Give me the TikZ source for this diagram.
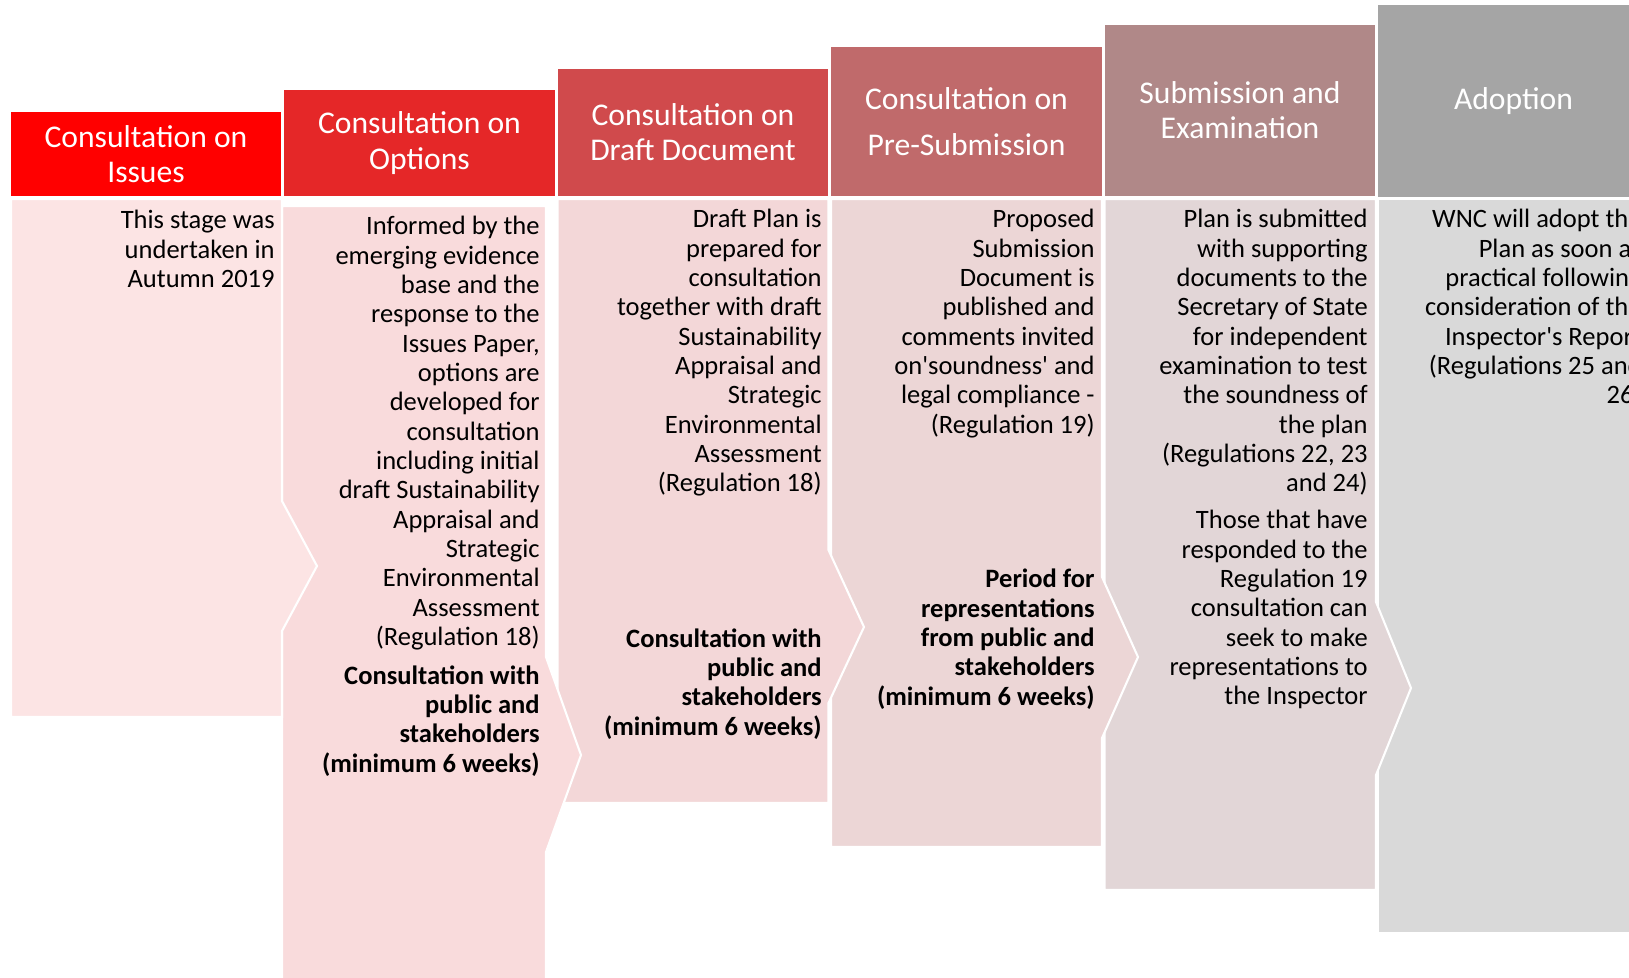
\documentclass[tikz,border=0pt]{standalone}
\usepackage{fontspec}
\setmainfont{Carlito}
\usepackage{xcolor}

\definecolor{headA}{HTML}{FF0000}
\definecolor{headB}{HTML}{E52728}
\definecolor{headC}{HTML}{D04A4C}
\definecolor{headD}{HTML}{C06A6B}
\definecolor{headE}{HTML}{B08888}
\definecolor{headF}{HTML}{A5A5A5}
\definecolor{bodyA}{HTML}{FCE4E4}
\definecolor{bodyB}{HTML}{F9DBDC}
\definecolor{bodyC}{HTML}{F3D7D8}
\definecolor{bodyD}{HTML}{ECD6D6}
\definecolor{bodyE}{HTML}{E2D6D7}
\definecolor{bodyF}{HTML}{D9D9D9}

\tikzset{
    head/.style={rectangle, inner sep=0pt, text=white, align=center,
        font=\fontsize{18}{20}\selectfont},
    stage/.style={draw=white, line width=1.2pt},
    note/.style={anchor=north east, inner sep=0pt, align=right,
        font=\fontsize{15.1}{16.7}\selectfont},
}

\begin{document}
\begin{tikzpicture}[x=0.02cm, y=-0.02cm]
        \useasboundingbox (0,0) rectangle (1629,977);
        \clip (0,0) rectangle (1629,977);

        \draw[stage, fill=bodyF] (1378,199) rectangle (1670,933);
        \draw[stage, fill=bodyE] (1104.5,199) -- (1376,199) -- (1376,602) -- (1411,688)
            -- (1376,775) -- (1376,890) -- (1104.5,890) -- cycle;
        \draw[stage, fill=bodyD] (831,199) -- (1102,199) -- (1102,577) -- (1138,657)
            -- (1102,738) -- (1102,847) -- (831,847) -- cycle;
        \draw[stage, fill=bodyC] (557.5,199) -- (828.5,199) -- (828.5,550) -- (864,627)
            -- (828.5,703) -- (828.5,803) -- (557.5,803) -- cycle;
        \draw[stage, fill=bodyB] (282,206) -- (546,206) -- (546,657) -- (581,755)
            -- (546,852) -- (546,990) -- (282,990) -- cycle;
        \draw[stage, fill=bodyA] (11,199) -- (282,199) -- (282,501) -- (317,566)
            -- (282,631) -- (282,717) -- (11,717) -- cycle;

        \node[head, fill=headA, minimum width=5.4cm, minimum height=1.68cm] (issues) at (146,154) {Consultation on\\Issues};
        \node[head, fill=headB, minimum width=5.42cm, minimum height=2.12cm] (options) at (419.5,143) {Consultation on\\Options};
        \node[head, fill=headC, minimum width=5.42cm, minimum height=2.54cm] (draft) at (693,132.5) {Consultation on\\Draft Document};
        \node[head, fill=headD, minimum width=5.42cm, minimum height=2.98cm] (presub) at (966.5,121.5) {Consultation on\\[6pt]Pre-Submission};
        \node[head, fill=headE, minimum width=5.42cm, minimum height=3.42cm] (submit) at (1240,110.5) {Submission and\\Examination};
        \node[head, fill=headF, minimum width=5.42cm, minimum height=3.84cm] (adopt) at (1513.5,101) {Adoption};

        \node[note] (issuestext) at (275,210) {This stage was\\undertaken in\\Autumn 2019};
        \node[note] (optionstext) at (540,216) {Informed by the\\emerging evidence\\base and the\\response to the\\Issues Paper,\\options are\\developed for\\consultation\\including initial\\draft Sustainability\\Appraisal and\\Strategic\\Environmental\\Assessment\\(Regulation 18)};
        \node[note, font=\fontsize{15.1}{16.7}\selectfont\bfseries] (optionsweeks) at (540,665) {Consultation with\\public and\\stakeholders\\(minimum 6 weeks)};
        \node[note] (drafttext) at (822,209) {Draft Plan is\\prepared for\\consultation\\together with draft\\Sustainability\\Appraisal and\\Strategic\\Environmental\\Assessment\\(Regulation 18)};
        \node[note, font=\fontsize{15.1}{16.7}\selectfont\bfseries] (draftweeks) at (822,628) {Consultation with\\public and\\stakeholders\\(minimum 6 weeks)};
        \node[note] (presubtext) at (1095,209) {Proposed\\Submission\\Document is\\published and\\comments invited\\on\textquotesingle soundness\textquotesingle{} and\\legal compliance -\\(Regulation 19)};
        \node[note, font=\fontsize{15.1}{16.7}\selectfont\bfseries] (presubweeks) at (1095,569) {Period for\\representations\\from public and\\stakeholders\\(minimum 6 weeks)};
        \node[note] (submittext) at (1368,209) {Plan is submitted\\with supporting\\documents to the\\Secretary of State\\for independent\\examination to test\\the soundness of\\the plan\\(Regulations 22, 23\\and 24)};
        \node[note] (submitreps) at (1368,510) {Those that have\\responded to the\\Regulation 19\\consultation can\\seek to make\\representations to\\the Inspector};
        \node[note] (adopttext) at (1642,209) {WNC will adopt the\\Plan as soon as\\practical following\\consideration of the\\Inspector\textquotesingle s Report\\(Regulations 25 and\\26)};
\end{tikzpicture}
\end{document}
